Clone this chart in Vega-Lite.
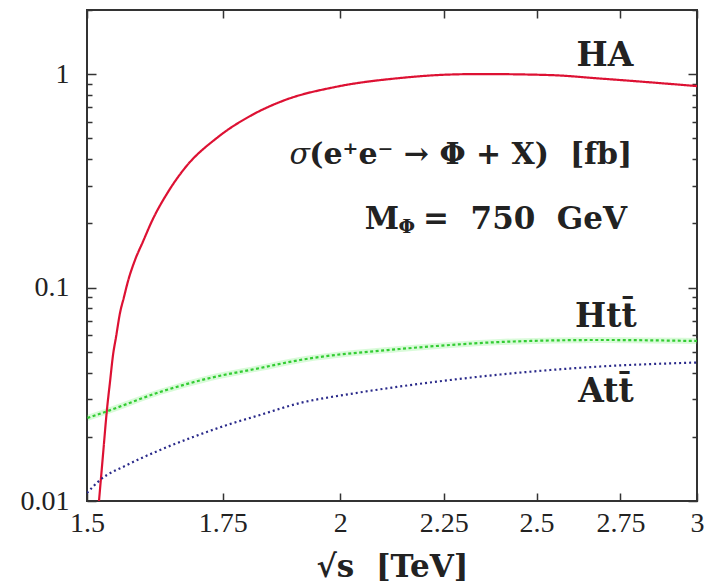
{
  "$schema": "https://vega.github.io/schema/vega-lite/v6.json",
  "autosize": "none",
  "width": 610,
  "height": 491,
  "padding": {"left": 87, "top": 10, "right": 16, "bottom": 82},
  "background": "white",
  "datasets": {
    "curves": [
      {"series": "HA", "sqrts": 1.5206, "sigma": 0.0100},
      {"series": "HA", "sqrts": 1.5275, "sigma": 0.01643},
      {"series": "HA", "sqrts": 1.5345, "sigma": 0.02698},
      {"series": "HA", "sqrts": 1.5397, "sigma": 0.03612},
      {"series": "HA", "sqrts": 1.545, "sigma": 0.04831},
      {"series": "HA", "sqrts": 1.5503, "sigma": 0.05869},
      {"series": "HA", "sqrts": 1.5573, "sigma": 0.07602},
      {"series": "HA", "sqrts": 1.5644, "sigma": 0.09036},
      {"series": "HA", "sqrts": 1.5716, "sigma": 0.10738},
      {"series": "HA", "sqrts": 1.5841, "sigma": 0.13468},
      {"series": "HA", "sqrts": 1.5985, "sigma": 0.16430},
      {"series": "HA", "sqrts": 1.6149, "sigma": 0.20516},
      {"series": "HA", "sqrts": 1.6446, "sigma": 0.28044},
      {"series": "HA", "sqrts": 1.6765, "sigma": 0.36349},
      {"series": "HA", "sqrts": 1.7408, "sigma": 0.50777},
      {"series": "HA", "sqrts": 1.8092, "sigma": 0.64384},
      {"series": "HA", "sqrts": 1.8786, "sigma": 0.757},
      {"series": "HA", "sqrts": 1.9882, "sigma": 0.87093},
      {"series": "HA", "sqrts": 2.1404, "sigma": 0.95983},
      {"series": "HA", "sqrts": 2.2656, "sigma": 0.99675},
      {"series": "HA", "sqrts": 2.344, "sigma": 1.002},
      {"series": "HA", "sqrts": 2.539, "sigma": 0.991},
      {"series": "HA", "sqrts": 2.687, "sigma": 0.95465},
      {"series": "HA", "sqrts": 3.0, "sigma": 0.880},
      {"series": "Htt", "sqrts": 1.5007, "sigma": 0.02448},
      {"series": "Htt", "sqrts": 1.531, "sigma": 0.02612},
      {"series": "Htt", "sqrts": 1.6298, "sigma": 0.03242},
      {"series": "Htt", "sqrts": 1.725, "sigma": 0.03771},
      {"series": "Htt", "sqrts": 1.8258, "sigma": 0.04199},
      {"series": "Htt", "sqrts": 1.9107, "sigma": 0.04578},
      {"series": "Htt", "sqrts": 2.1404, "sigma": 0.05157},
      {"series": "Htt", "sqrts": 2.2656, "sigma": 0.05383},
      {"series": "Htt", "sqrts": 2.399, "sigma": 0.05561},
      {"series": "Htt", "sqrts": 2.687, "sigma": 0.05683},
      {"series": "Htt", "sqrts": 3.0, "sigma": 0.05621},
      {"series": "Att", "sqrts": 1.5, "sigma": 0.0109},
      {"series": "Att", "sqrts": 1.5224, "sigma": 0.01254},
      {"series": "Att", "sqrts": 1.5697, "sigma": 0.01475},
      {"series": "Att", "sqrts": 1.6298, "sigma": 0.01734},
      {"series": "Att", "sqrts": 1.692, "sigma": 0.01995},
      {"series": "Att", "sqrts": 1.7585, "sigma": 0.0227},
      {"series": "Att", "sqrts": 1.8258, "sigma": 0.0253},
      {"series": "Att", "sqrts": 1.9107, "sigma": 0.02878},
      {"series": "Att", "sqrts": 2.0225, "sigma": 0.03173},
      {"series": "Att", "sqrts": 2.1404, "sigma": 0.0344},
      {"series": "Att", "sqrts": 2.2656, "sigma": 0.03689},
      {"series": "Att", "sqrts": 2.399, "sigma": 0.03915},
      {"series": "Att", "sqrts": 2.539, "sigma": 0.0411},
      {"series": "Att", "sqrts": 2.687, "sigma": 0.04268},
      {"series": "Att", "sqrts": 3.0, "sigma": 0.04457}
    ],
    "notes": [
      {"key": "HA", "text": "HA", "sqrts": 2.702, "sigma": 1.217},
      {"key": "Htt", "text": "Htt̄", "sqrts": 2.705, "sigma": 0.0728},
      {"key": "Att", "text": "Att̄", "sqrts": 2.705, "sigma": 0.03242},
      {"key": "proc", "text": "(e⁺e⁻ → Φ + X)\u00a0\u00a0[fb]", "sqrts": 2.787, "sigma": 0.4182},
      {"key": "sigma", "text": "σ", "sqrts": 1.9327, "sigma": 0.4182},
      {"key": "mass", "text": "=\u00a0\u00a0750\u00a0\u00a0GeV", "sqrts": 2.771, "sigma": 0.2074},
      {"key": "M", "text": "M", "sqrts": 2.1387, "sigma": 0.2074},
      {"key": "sub", "text": "Φ", "sqrts": 2.1777, "sigma": 0.1923}
    ]
  },
  "resolve": {"axis": {"x": "independent", "y": "independent"}},
  "layer": [
    {
      "data": {"name": "curves"},
      "transform": [{"filter": "datum.series === 'Htt'"}],
      "mark": {"type": "line", "strokeWidth": 6, "color": "#66ee66", "opacity": 0.25, "clip": true, "interpolate": "monotone"},
      "encoding": {
        "x": {"field": "sqrts", "type": "quantitative", "scale": {"type": "log", "domain": [1.5, 3], "nice": false, "zero": false},
          "axis": {"orient": "bottom", "values": [1.5, 1.75, 2, 2.25, 2.5, 2.75, 3], "format": "~g", "labelFlush": false, "labelOverlap": false,
            "tickSize": -8, "labelPadding": 16, "title": "√s\u00a0\u00a0[TeV]", "titleFont": "DejaVu Serif", "titleFontSize": 31, "titleFontWeight": "bold", "titleColor": "#222", "titlePadding": 15}},
        "y": {"field": "sigma", "type": "quantitative", "scale": {"type": "log", "domain": [0.01, 2], "nice": false, "zero": false},
          "axis": {"orient": "left", "values": [0.01,0.02,0.03,0.04,0.05,0.06,0.07,0.08,0.09,0.1,0.2,0.3,0.4,0.5,0.6,0.7,0.8,0.9,1,2],
            "format": "~g", "labelOverlap": false, "labelBaseline": "middle",
            "labelExpr": "abs(log(datum.value)/LN10 - round(log(datum.value)/LN10)) < 0.01 ? datum.label : ''",
            "tickSize": {"condition": {"test": "abs(log(datum.value)/LN10 - round(log(datum.value)/LN10)) > 0.01", "value": -5}, "value": -9},
            "labelPadding": 27, "title": null}}
      }
    },
    {
      "data": {"name": "curves"},
      "mark": {"type": "line", "strokeWidth": 2.2, "clip": true, "interpolate": "monotone"},
      "encoding": {
        "x": {"field": "sqrts", "type": "quantitative", "axis": {"orient": "top", "values": [1.5, 1.75, 2, 2.25, 2.5, 2.75, 3], "labels": false, "tickSize": -8, "title": null}},
        "y": {"field": "sigma", "type": "quantitative", "axis": {"orient": "right", "values": [0.01,0.02,0.03,0.04,0.05,0.06,0.07,0.08,0.09,0.1,0.2,0.3,0.4,0.5,0.6,0.7,0.8,0.9,1,2],
            "labels": false, "title": null,
            "tickSize": {"condition": {"test": "abs(log(datum.value)/LN10 - round(log(datum.value)/LN10)) > 0.01", "value": -5}, "value": -9}}},
        "color": {"field": "series", "type": "nominal", "scale": {"domain": ["HA", "Htt", "Att"], "range": ["#dd1133", "#33cc33", "#2a2a8a"]}, "legend": null},
        "strokeDash": {"field": "series", "type": "nominal", "scale": {"domain": ["HA", "Htt", "Att"], "range": [[1, 0], [3, 2.5], [2, 3]]}, "legend": null}
      }
    },
    {
      "data": {"name": "notes"},
      "transform": [{"filter": "datum.key === 'HA' || datum.key === 'Htt' || datum.key === 'Att'"}],
      "mark": {"type": "text", "font": "DejaVu Serif", "fontSize": 33, "fontWeight": "bold", "align": "center", "baseline": "middle", "color": "#222"},
      "encoding": {
        "x": {"field": "sqrts", "type": "quantitative", "axis": null},
        "y": {"field": "sigma", "type": "quantitative", "axis": null},
        "text": {"field": "text"}
      }
    },
    {
      "data": {"name": "notes"},
      "transform": [{"filter": "datum.key === 'proc'"}],
      "mark": {"type": "text", "font": "DejaVu Serif", "fontSize": 30, "fontWeight": "bold", "align": "right", "baseline": "middle", "color": "#222"},
      "encoding": {
        "x": {"field": "sqrts", "type": "quantitative", "axis": null},
        "y": {"field": "sigma", "type": "quantitative", "axis": null},
        "text": {"field": "text"}
      }
    },
    {
      "data": {"name": "notes"},
      "transform": [{"filter": "datum.key === 'mass' || datum.key === 'M'"}],
      "mark": {"type": "text", "font": "DejaVu Serif", "fontSize": 31, "fontWeight": "bold", "align": "right", "baseline": "middle", "color": "#222"},
      "encoding": {
        "x": {"field": "sqrts", "type": "quantitative", "axis": null},
        "y": {"field": "sigma", "type": "quantitative", "axis": null},
        "text": {"field": "text"}
      }
    },
    {
      "data": {"name": "notes"},
      "transform": [{"filter": "datum.key === 'sub'"}],
      "mark": {"type": "text", "font": "DejaVu Serif", "fontSize": 19, "fontWeight": "bold", "align": "right", "baseline": "middle", "color": "#222"},
      "encoding": {
        "x": {"field": "sqrts", "type": "quantitative", "axis": null},
        "y": {"field": "sigma", "type": "quantitative", "axis": null},
        "text": {"field": "text"}
      }
    },
    {
      "data": {"name": "notes"},
      "transform": [{"filter": "datum.key === 'sigma'"}],
      "mark": {"type": "text", "font": "DejaVu Serif", "fontSize": 30, "fontStyle": "italic", "align": "right", "baseline": "middle", "color": "#222"},
      "encoding": {
        "x": {"field": "sqrts", "type": "quantitative", "axis": null},
        "y": {"field": "sigma", "type": "quantitative", "axis": null},
        "text": {"field": "text"}
      }
    }
  ],
  "config": {
    "view": {"stroke": "#333", "strokeWidth": 2},
    "axis": {"grid": false, "domain": false, "labelFont": "Liberation Serif, DejaVu Serif, serif", "labelFontSize": 28, "labelColor": "#222", "tickColor": "#333", "tickWidth": 1.5}
  }
}
